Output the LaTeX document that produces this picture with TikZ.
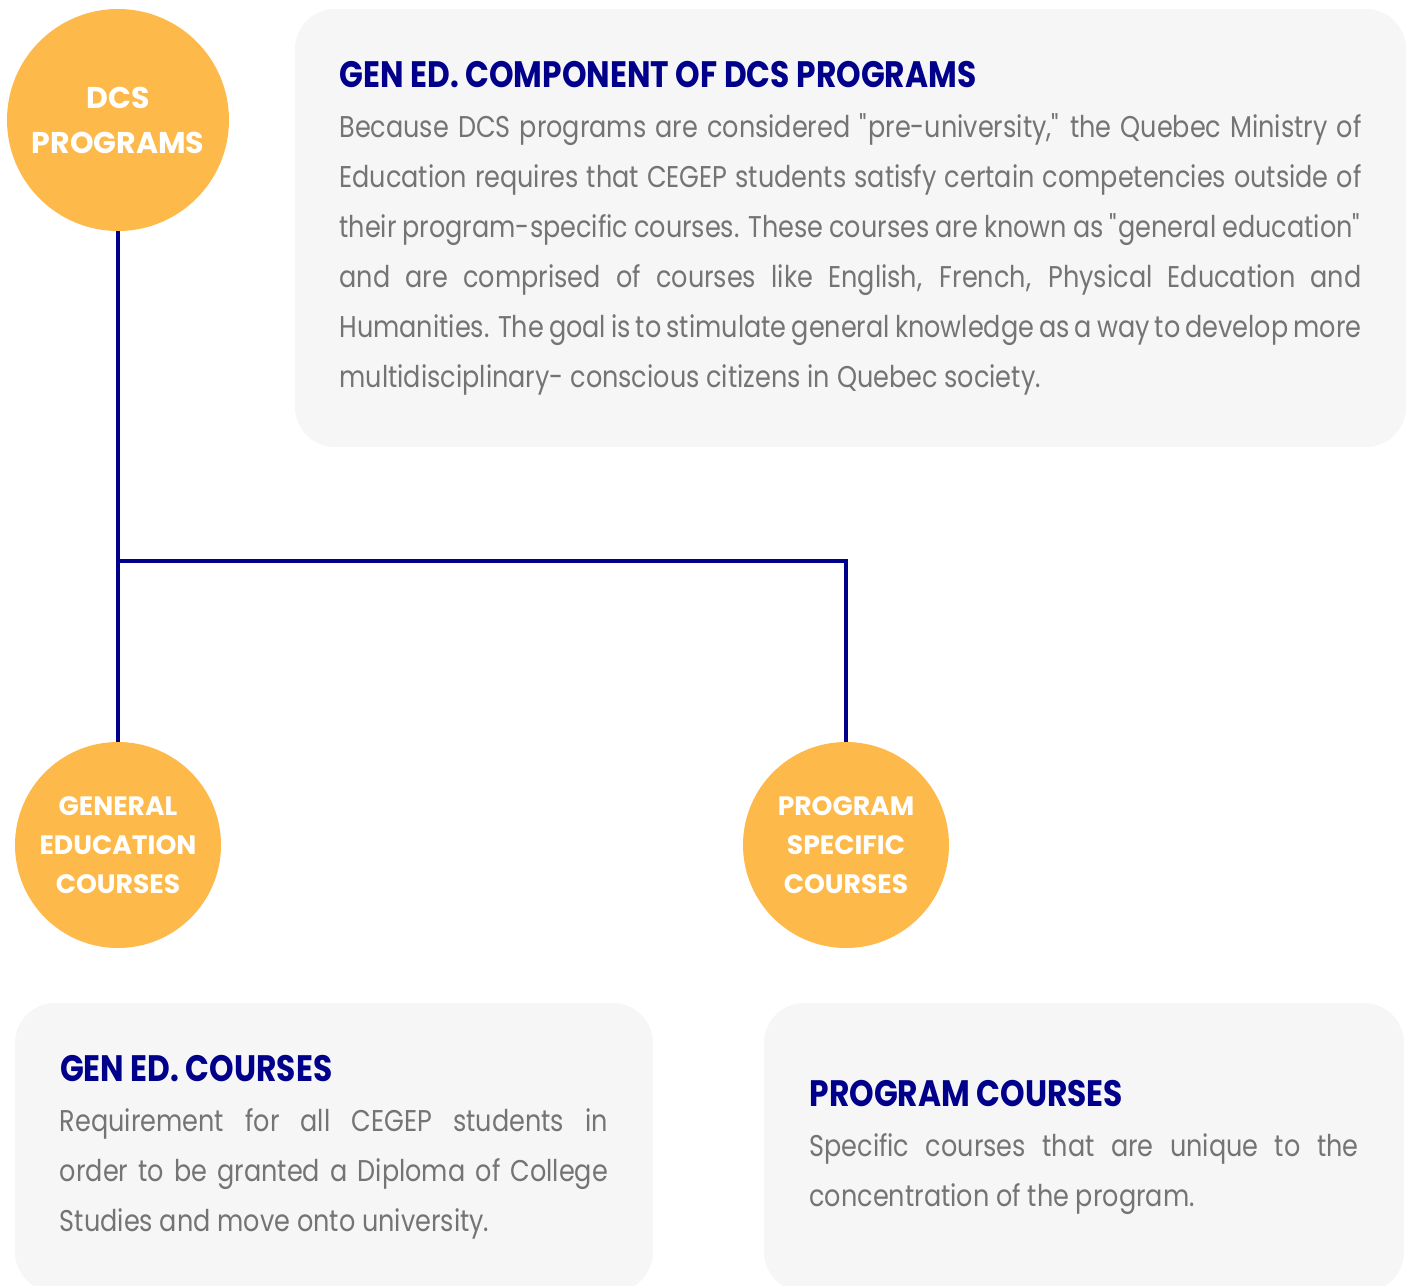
\documentclass[tikz,border=0pt]{standalone}
\usepackage{fontspec}
\setmainfont{Poppins}[FakeStretch=0.85]
\newfontfamily\circfont{Poppins}
\definecolor{dcsorange}{HTML}{FDB94A}
\definecolor{dcsnavy}{HTML}{00008B}
\definecolor{dcsgrey}{HTML}{747474}
\definecolor{boxgrey}{HTML}{F6F6F6}
\newcommand{\boxhead}[1]{{\color{dcsnavy}\bfseries\fontsize{18.4}{25}\selectfont #1}\par}
\begin{document}
\begin{tikzpicture}[x=0.5pt,y=-0.5pt,
    bubble/.style={circle,fill=dcsorange,text=white,inner sep=0pt,align=center,
      font=\circfont\bfseries},
    infobox/.style={fill=boxgrey,rounded corners=20pt,inner sep=0pt,align=justify,
      text=dcsgrey,font=\fontsize{15}{25}\selectfont},
    link/.style={draw=dcsnavy,line width=2pt}]
  \useasboundingbox (0,0) rectangle (1408,1285);
  % 说明框
  \node[infobox,minimum width=555.5pt,minimum height=219pt,text width=511pt] (comp) at (850.5,228)
    {\boxhead{GEN ED. COMPONENT OF DCS PROGRAMS}
     Because DCS programs are considered \textquotedbl pre-university,\textquotedbl{} the Quebec Ministry of\linebreak
     Education requires that CEGEP students satisfy certain competencies outside of\linebreak
     their program-specific courses. These courses are known as \textquotedbl general education\textquotedbl\linebreak
     and are comprised of courses like English, French, Physical Education and\linebreak
     Humanities. The goal is to stimulate general knowledge as a way to develop more\linebreak
     multidisciplinary- conscious citizens in Quebec society.};
  \begin{scope}
    \clip (0,0) rectangle (1408,1285);
    \node[infobox,minimum width=319pt,minimum height=144.5pt,text width=274pt] (genbox) at (334,1147.5)
      {\boxhead{GEN ED. COURSES}
       Requirement for all CEGEP students in\linebreak
       order to be granted a Diploma of College\linebreak
       Studies and move onto university.};
    \node[infobox,minimum width=320pt,minimum height=144.5pt,text width=274.5pt] (progbox) at (1084,1147.5)
      {\boxhead{PROGRAM COURSES}
       Specific courses that are unique to the\linebreak
       concentration of the program.};
  \end{scope}
  % 圆形节点
  \node[bubble,minimum size=111pt,font=\circfont\bfseries\fontsize{15}{22.5}\selectfont] (dcs) at (118,120) {DCS\\PROGRAMS};
  \node[bubble,minimum size=103pt,font=\circfont\bfseries\fontsize{13.3}{19.5}\selectfont] (gened) at (118,845) {GENERAL\\EDUCATION\\COURSES};
  \node[bubble,minimum size=103pt,font=\circfont\bfseries\fontsize{13.3}{19.5}\selectfont] (prog) at (846,845) {PROGRAM\\SPECIFIC\\COURSES};
  % 连线
  \coordinate (split) at (118,561);
  \draw[link] (dcs) -- (gened);
  \draw[link] (split) -| (prog);
\end{tikzpicture}
\end{document}
